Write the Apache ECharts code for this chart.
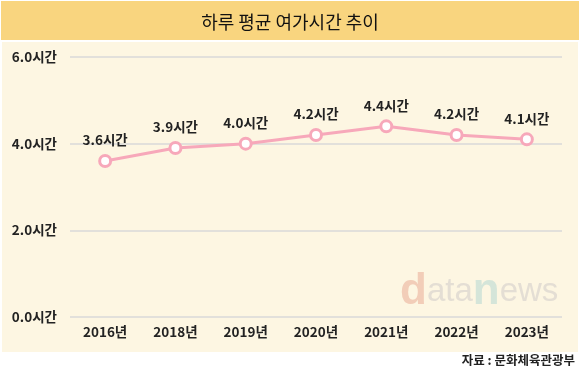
<!DOCTYPE html>
<html><head><meta charset="utf-8">
<script src="https://cdn.jsdelivr.net/npm/echarts@6/dist/echarts.min.js"></script>
<style>html,body{margin:0;padding:0;background:#fff}#c{width:580px;height:378px}</style>
</head><body><div id="c"></div>
<script>
const categories = ['2016년','2018년','2019년','2020년','2021년','2022년','2023년'];
const hours = [3.6, 3.9, 4.0, 4.2, 4.4, 4.2, 4.1];
const titleText = '하루 평균 여가시간 추이';
const sourceText = '자료 : 문화체육관광부';
const unit = '시간';
const FONT = '"Noto Sans CJK KR", "Noto Sans", sans-serif';

const chart = echarts.init(document.getElementById('c'), null, {renderer:'canvas'});
chart.setOption({
  animation: false,
  backgroundColor: '#ffffff',
  graphic: [
    {type:'rect', z:-10, shape:{x:1, y:1, width:578, height:39}, style:{fill:'#F9D57F'}},
    {type:'rect', z:-10, shape:{x:2, y:42, width:576, height:310}, style:{fill:'#FDF6E2'}},
    {type:'text', z:-5, left:400, top:270, style:{
      text:'{d|d}{a|ata}{n|n}{a|ews}',
      rich:{
        d:{fontSize:44, fontWeight:'bold', fill:'#F2CDB8', fontFamily:'Arial, sans-serif'},
        a:{fontSize:33, fill:'#E4DED4', fontFamily:'Arial, sans-serif'},
        n:{fontSize:44, fontWeight:'bold', fill:'#D5E5D9', fontFamily:'Arial, sans-serif'}
      }
    }},
    {type:'text', right:5, top:354, style:{text:sourceText, fontSize:12.5, fontWeight:'bold', fill:'#222', fontFamily:FONT}}
  ],
  title: {
    text: titleText, left:'center', top:8,
    textStyle:{fontSize:18, fontWeight:'normal', color:'#111', fontFamily:FONT}
  },
  grid: {left:70, right:18, top:57, bottom:61},
  xAxis: {
    type:'category', data: categories, boundaryGap:true,
    axisLine:{show:false}, axisTick:{show:false},
    axisLabel:{fontSize:13.5, fontWeight:'bold', color:'#222', margin:8, fontFamily:FONT}
  },
  yAxis: {
    type:'value', min:0, max:6, interval:2,
    axisLine:{show:false}, axisTick:{show:false},
    splitLine:{lineStyle:{color:'#D9D9D9', width:1.5}},
    axisLabel:{fontSize:13.5, fontWeight:'bold', color:'#222', margin:13, align:'right', fontFamily:FONT,
      formatter: v => v.toFixed(1) + unit}
  },
  series: [{
    type:'line', data: hours,
    symbol:'circle', symbolSize:11,
    lineStyle:{color:'#F7A8BA', width:3},
    itemStyle:{color:'#ffffff', borderColor:'#F7A8BA', borderWidth:3},
    label:{show:true, position:'top', distance:7, fontSize:13.5, fontWeight:'bold', color:'#222', fontFamily:FONT,
      formatter: p => p.value.toFixed(1) + unit}
  }]
});
</script></body></html>
